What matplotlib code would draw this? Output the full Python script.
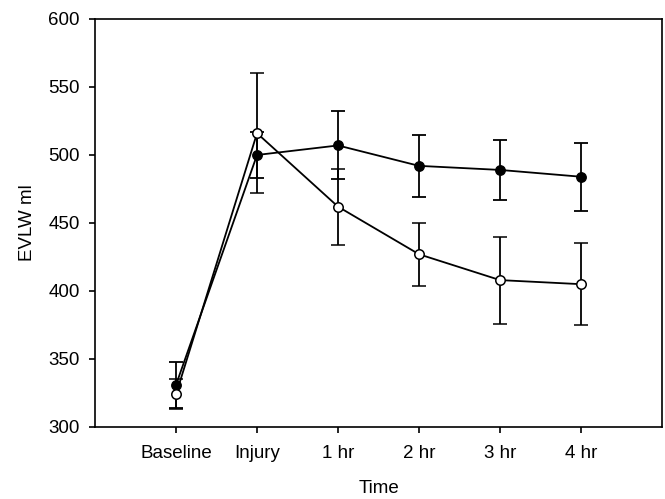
import matplotlib
matplotlib.use("Agg")
import matplotlib.pyplot as plt

plt.rcParams['font.family'] = ['Liberation Sans', 'DejaVu Sans']

categories = ["Baseline", "Injury", "1 hr", "2 hr", "3 hr", "4 hr"]
filled_vals = [331, 500, 507, 492, 489, 484]
filled_err = [17, 17, 25, 23, 22, 25]
open_vals = [324, 516, 462, 427, 408, 405]
open_err = [11, 44, 28, 23, 32, 30]

fig = plt.figure(figsize=(6.65, 4.99), dpi=100)
ax = fig.add_axes([0.1429, 0.1443, 0.8526, 0.8177])

x = list(range(1, len(categories) + 1))
lw = 1.3
ax.errorbar(x, filled_vals, yerr=filled_err, color='black', lw=lw, elinewidth=lw,
            capsize=4.8, capthick=lw, marker='o', ms=6.8, mfc='black', mec='black',
            zorder=2)
ax.errorbar(x, open_vals, yerr=open_err, color='black', lw=lw, elinewidth=lw,
            capsize=4.8, capthick=lw, marker='o', ms=6.8, mfc='white', mec='black',
            mew=1.1, zorder=3)

ax.set_xlim(0, 7)
ax.set_ylim(300, 600)
ax.set_xticks(x)
ax.set_xticklabels(categories)
ax.set_yticks(range(300, 601, 50))
ax.tick_params(axis='both', labelsize=13.5, direction='out', length=4, width=1.2,
               top=False, right=False)
ax.tick_params(axis='x', pad=9)
ax.tick_params(axis='y', pad=7)
for s in ax.spines.values():
    s.set_linewidth(1.2)
ax.set_xlabel("Time", fontsize=13.5, labelpad=13)
ax.set_ylabel("EVLW ml", fontsize=13.5, labelpad=9)

fig.savefig("out.png", dpi=100)
